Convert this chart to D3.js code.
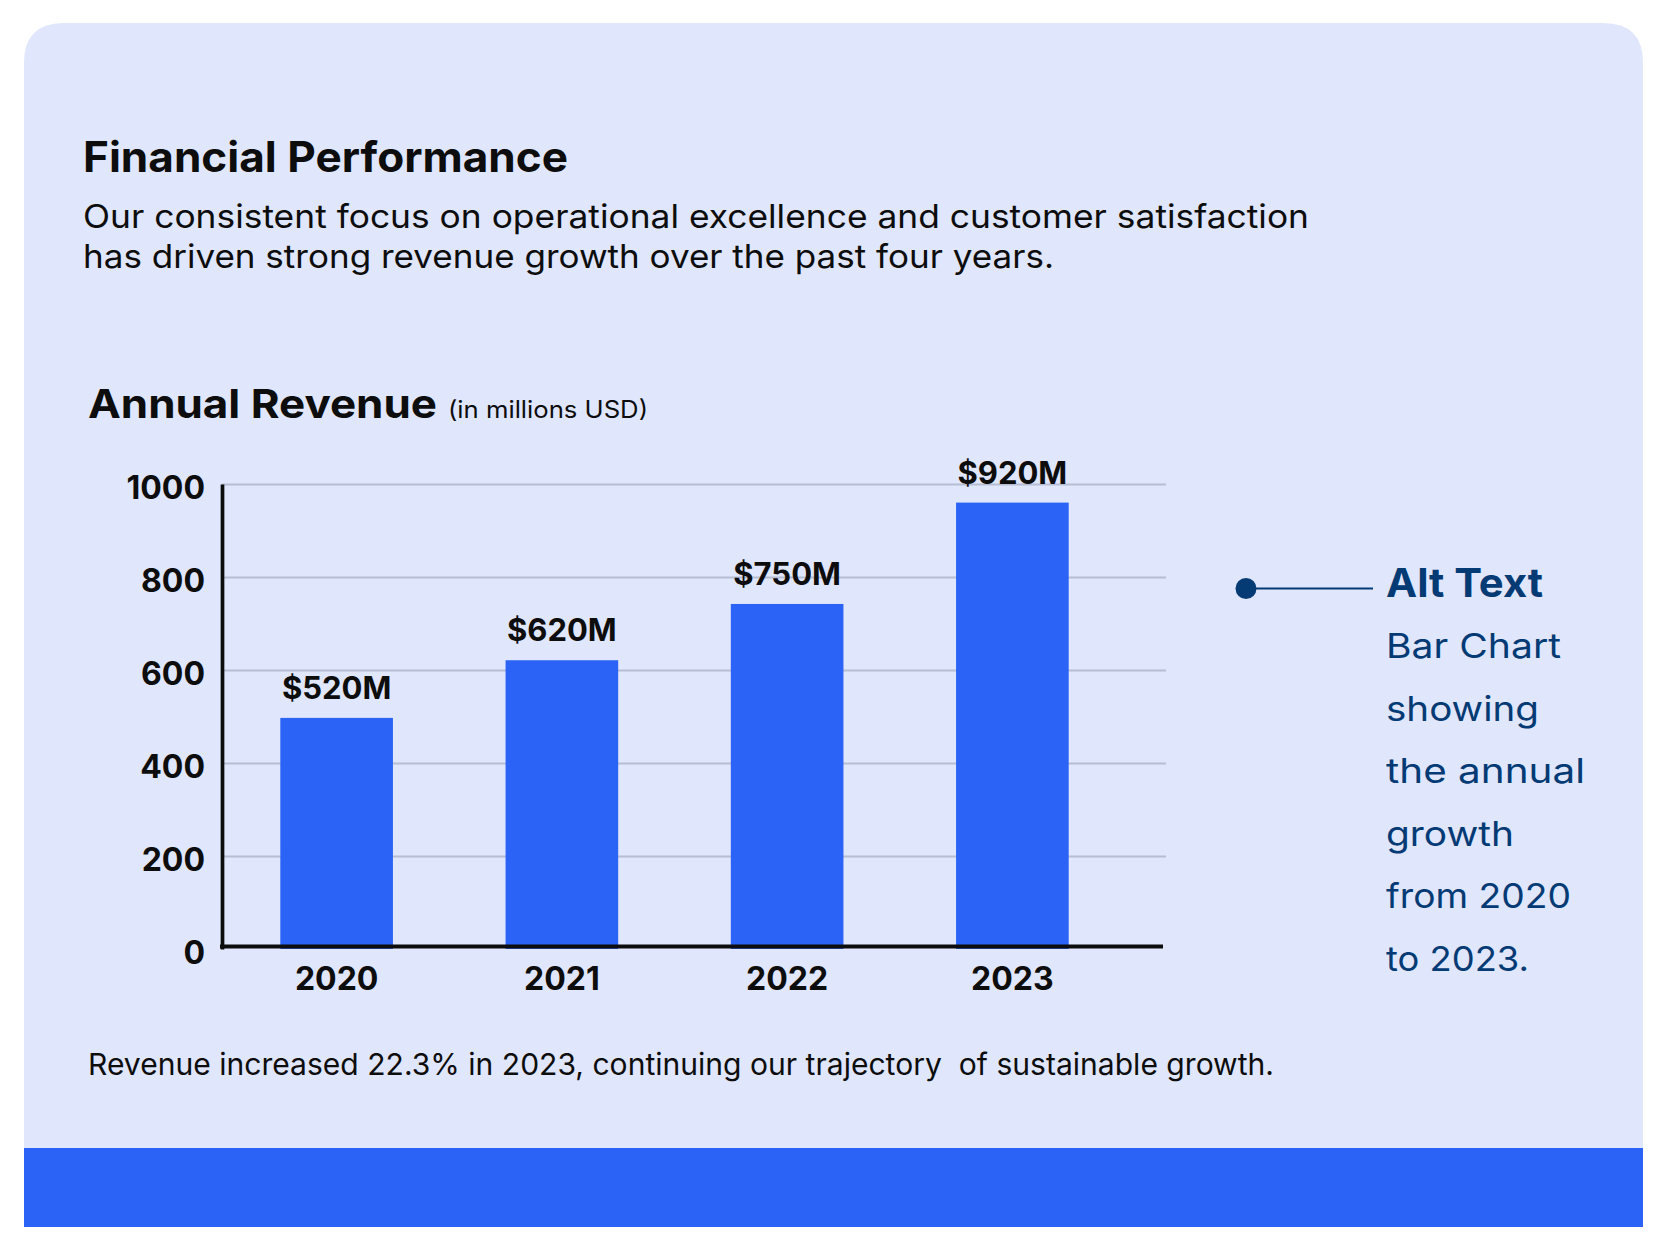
<!DOCTYPE html>
<html>
<head>
<meta charset="utf-8">
<script src="https://cdn.jsdelivr.net/npm/d3@7"></script>
<style>
  html, body { margin: 0; padding: 0; background: #ffffff; }
  svg { display: block; }
  text { font-family: Inter, "Noto Sans", "DejaVu Sans", sans-serif; }
</style>
</head>
<body>
<svg id="chart" width="1667" height="1250"></svg>
<script>
// ---- data ----
const years = ["2020", "2021", "2022", "2023"];
const revenue = [497, 621, 742, 960];            // bar heights as drawn
const valueLabels = ["$520M", "$620M", "$750M", "$920M"];
const yTicks = [0, 200, 400, 600, 800, 1000];
const titleText = "Financial Performance";
const introLines = [
  "Our consistent focus on operational excellence and customer satisfaction",
  "has driven strong revenue growth over the past four years."
];
const chartTitle = "Annual Revenue";
const chartUnit = "(in millions USD)";
const footnote = "Revenue increased 22.3% in 2023, continuing our trajectory  of sustainable growth.";
const altTitle = "Alt Text";
const altLines = ["Bar Chart", "showing", "the annual", "growth", "from 2020", "to 2023."];

// ---- style ----
const cardBg = "#E0E6FC";
const blue = "#2B63F6";
const navy = "#053B75";
const ink = "#0d0d0d";
const gridColor = "#b6bed3";

const svg = d3.select("#chart");

// card with rounded top corners
const cx0 = 24, cx1 = 1643, cy0 = 23, cy1 = 1227, r = 40, bandTop = 1148;
svg.append("path")
  .attr("d", `M${cx0},${bandTop} L${cx0},${cy0 + r} Q${cx0},${cy0} ${cx0 + r},${cy0} L${cx1 - r},${cy0} Q${cx1},${cy0} ${cx1},${cy0 + r} L${cx1},${bandTop} Z`)
  .attr("fill", cardBg);
svg.append("rect").attr("x", cx0).attr("y", bandTop).attr("width", cx1 - cx0).attr("height", cy1 - bandTop).attr("fill", blue);

// heading texts
svg.append("text").text(titleText)
  .attr("x", 83).attr("y", 172)
  .attr("font-size", 42).attr("font-weight", 700).attr("fill", ink)
  .attr("textLength", 485).attr("lengthAdjust", "spacingAndGlyphs");

const introWidths = [1226, 971];
introLines.forEach((t, i) => {
  svg.append("text").text(t)
    .attr("x", 83).attr("y", 228 + i * 40)
    .attr("font-size", 33).attr("font-weight", 400).attr("fill", ink)
    .attr("textLength", introWidths[i]).attr("lengthAdjust", "spacingAndGlyphs");
});

svg.append("text").text(chartTitle)
  .attr("x", 88).attr("y", 418)
  .attr("font-size", 40).attr("font-weight", 700).attr("fill", ink)
  .attr("textLength", 349).attr("lengthAdjust", "spacingAndGlyphs");
svg.append("text").text(chartUnit)
  .attr("x", 448).attr("y", 418)
  .attr("font-size", 24).attr("font-weight", 400).attr("fill", ink)
  .attr("textLength", 200).attr("lengthAdjust", "spacingAndGlyphs");

// ---- scales ----
const axisX = 222, gridEnd = 1166, axisEnd = 1163;
const x = d3.scaleBand().domain(years).range([224, 1125]).paddingInner(0.5).paddingOuter(0.25);
const y = d3.scaleLinear().domain([0, 1000]).range([949, 484]);

// y axis with gridlines
const yAxisG = svg.append("g").attr("transform", `translate(${axisX},0)`)
  .call(d3.axisLeft(y).tickValues(yTicks).tickFormat(d3.format("d"))
    .tickSize(-(gridEnd - axisX)).tickSizeOuter(0).tickPadding(17));
yAxisG.selectAll(".tick line").attr("stroke", gridColor).attr("stroke-width", 2)
  .filter(d => d === 0).remove();
yAxisG.selectAll(".tick text")
  .attr("font-size", 32).attr("font-weight", 700).attr("fill", ink)
  .attr("font-family", "Inter, 'Noto Sans', sans-serif")
  .attr("dy", "0.45em");
yAxisG.select(".domain").attr("stroke", ink).attr("stroke-width", 3.7).raise();

// bars
svg.append("g").selectAll("rect").data(years).join("rect")
  .attr("x", d => x(d))
  .attr("width", x.bandwidth())
  .attr("y", (d, i) => y(revenue[i]))
  .attr("height", (d, i) => y(0) - y(revenue[i]))
  .attr("fill", blue);

// value labels
svg.append("g").selectAll("text").data(years).join("text")
  .attr("x", d => x(d) + x.bandwidth() / 2)
  .attr("y", (d, i) => y(revenue[i]) - 19)
  .attr("text-anchor", "middle")
  .attr("font-size", 31).attr("font-weight", 700).attr("fill", ink)
  .text((d, i) => valueLabels[i]);

// x axis
const xAxisG = svg.append("g")
  .call(d3.axisBottom(x).tickSize(0).tickSizeOuter(0));
xAxisG.select(".domain").remove();
xAxisG.selectAll(".tick text")
  .attr("y", 990).attr("dy", null)
  .attr("font-size", 32).attr("font-weight", 700).attr("fill", ink)
  .attr("font-family", "Inter, 'Noto Sans', sans-serif");

// baseline
svg.append("line")
  .attr("x1", axisX - 2).attr("x2", axisEnd)
  .attr("y1", y(0) - 2.5).attr("y2", y(0) - 2.5)
  .attr("stroke", ink).attr("stroke-width", 4);

// footnote
svg.append("text").text(footnote)
  .attr("x", 88).attr("y", 1075)
  .attr("font-size", 30).attr("font-weight", 400).attr("fill", ink)
  .style("white-space", "pre")
  .attr("textLength", 1186).attr("lengthAdjust", "spacingAndGlyphs");

// alt text callout
svg.append("line").attr("x1", 1246).attr("x2", 1373).attr("y1", 588.5).attr("y2", 588.5)
  .attr("stroke", navy).attr("stroke-width", 2);
svg.append("circle").attr("cx", 1246).attr("cy", 588.5).attr("r", 10.5).attr("fill", navy);
svg.append("text").text(altTitle)
  .attr("x", 1386).attr("y", 597)
  .attr("font-size", 40).attr("font-weight", 700).attr("fill", navy)
  .attr("textLength", 157).attr("lengthAdjust", "spacingAndGlyphs");
const altWidths = [175, 153, 199, 128, 185, 143];
altLines.forEach((t, i) => {
  svg.append("text").text(t)
    .attr("x", 1386).attr("y", 658 + i * 62.5)
    .attr("font-size", 34).attr("font-weight", 400).attr("fill", navy)
    .attr("textLength", altWidths[i]).attr("lengthAdjust", "spacingAndGlyphs");
});
</script>
</body>
</html>
